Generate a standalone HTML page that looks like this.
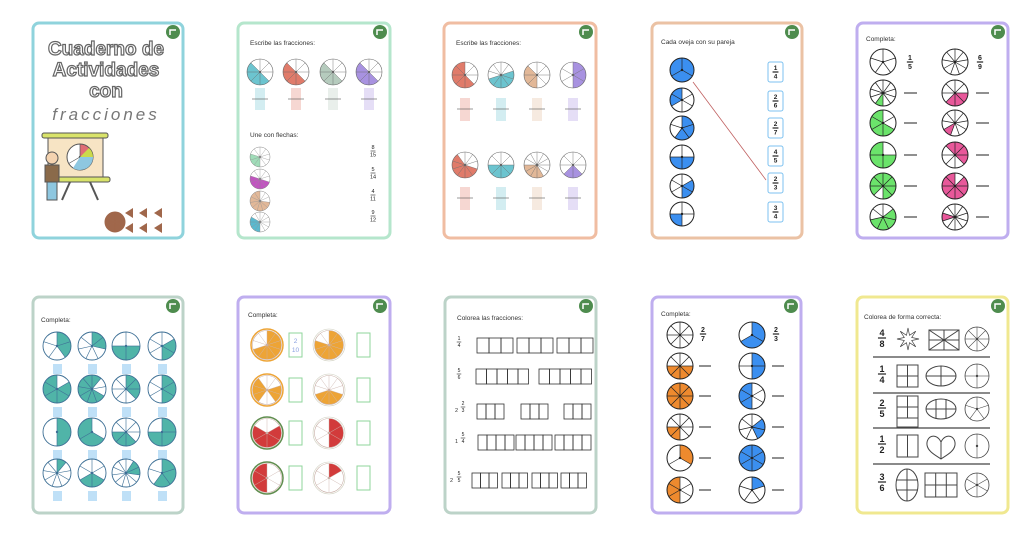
<!DOCTYPE html>
<html><head><meta charset="utf-8"><style>
body{margin:0;background:#fff;}
svg{display:block}
text{font-family:"Liberation Sans",sans-serif;}
</style></head><body>
<svg id="s" width="1024" height="536" xmlns="http://www.w3.org/2000/svg"></svg>
<script>
var s=document.getElementById('s');var NS='http://www.w3.org/2000/svg';
function el(t,a,txt){var e=document.createElementNS(NS,t);for(var k in a)e.setAttribute(k,a[k]);if(txt!==undefined)e.textContent=txt;s.appendChild(e);return e;}
function card(x,y,w,h,c){el('rect',{x:x,y:y,width:w,height:h,rx:6,fill:'#fff',stroke:c,'stroke-width':3});el('circle',{cx:x+w-10,cy:y+9,r:7,fill:'#4e8c4e'});el('path',{d:'M'+(x+w-13)+' '+(y+12)+'v-5h6',stroke:'#fff','stroke-width':1.5,fill:'none'});}
function T(x,y,t,sz,a){el('text',{x:x,y:y,'font-size':sz||7,fill:'#333','text-anchor':a||'start'},t);}
function pie(cx,cy,r,n,fill,col,stroke,sw){stroke=stroke||'#222';sw=sw||1;
 el('circle',{cx:cx,cy:cy,r:r,fill:'#fff'});
 for(var i=0;i<n;i++){var a0=i/n*2*Math.PI-Math.PI/2,a1=(i+1)/n*2*Math.PI-Math.PI/2;
  if(fill.indexOf(i)>=0){el('path',{d:'M'+cx+' '+cy+'L'+(cx+r*Math.cos(a0))+' '+(cy+r*Math.sin(a0))+'A'+r+' '+r+' 0 0 1 '+(cx+r*Math.cos(a1))+' '+(cy+r*Math.sin(a1))+'Z',fill:col});}}
 if(n>1)for(var i=0;i<n;i++){var a=i/n*2*Math.PI-Math.PI/2;el('line',{x1:cx,y1:cy,x2:cx+r*Math.cos(a),y2:cy+r*Math.sin(a),stroke:stroke,'stroke-width':sw*0.7});}
 el('circle',{cx:cx,cy:cy,r:r,fill:'none',stroke:stroke,'stroke-width':sw});el('circle',{cx:cx,cy:cy,r:1.2,fill:stroke});}
function rng(a,b){var r=[];for(var i=a;i<b;i++)r.push(i);return r;}
function frac(x,y,n,d,sz,bold){el('text',{x:x,y:y,'font-size':sz,'font-weight':bold?'bold':'normal','text-anchor':'middle',fill:'#222'},n);el('line',{x1:x-sz*0.45,y1:y+2,x2:x+sz*0.45,y2:y+2,stroke:'#222','stroke-width':bold?1.2:0.6});el('text',{x:x,y:y+sz+2,'font-size':sz,'font-weight':bold?'bold':'normal','text-anchor':'middle',fill:'#222'},d);}
// cards
card(33,23,150,215,'#8fd3dc');card(238,23,152,215,'#b5e6cc');card(444,23,152,215,'#f0bda2');card(652,23,150,215,'#ebc2a4');card(857,23,151,215,'#bfaeef');
card(33,297,150,216,'#bcd3c8');card(238,297,152,216,'#bfaeef');card(445,297,151,216,'#bcd3c8');card(652,297,149,216,'#bfaeef');card(857,297,151,216,'#f0e890');
// card1 title
['Cuaderno de','Actividades','con'].forEach(function(t,i){el('text',{x:106,y:[55,76,97][i],'font-size':19,'font-weight':'bold','text-anchor':'middle',fill:'#fff',stroke:'#666','stroke-width':1.2},t);});
el('text',{x:106,y:120,'font-size':17,'font-style':'italic','text-anchor':'middle',fill:'#777','font-family':'Liberation Serif, serif','letter-spacing':3},'fracciones');
// card1 illus
el('rect',{x:48,y:135,width:55,height:45,fill:'#f7e4c4',stroke:'#555'});el('rect',{x:42,y:133,width:66,height:5,rx:2,fill:'#d9e36a',stroke:'#555'});el('rect',{x:54,y:177,width:56,height:5,rx:2,fill:'#d9e36a',stroke:'#555'});
pie(80,157,13,3,[0],'#e06c75','#555');el('path',{d:'M80 157L93 157A13 13 0 0 1 73 168Z',fill:'#8ec7e0'});el('path',{d:'M80 157L93 157A13 13 0 0 0 89 148Z',fill:'#cbd94a'});
el('line',{x1:70,y1:182,x2:62,y2:200,stroke:'#555','stroke-width':2});el('line',{x1:90,y1:182,x2:98,y2:200,stroke:'#555','stroke-width':2});
el('circle',{cx:52,cy:158,r:6,fill:'#f4d3b0',stroke:'#555'});el('rect',{x:45,y:165,width:14,height:17,fill:'#8a6a4a',stroke:'#555'});el('rect',{x:47,y:182,width:10,height:18,fill:'#8ec7e0',stroke:'#555'});
pie(115,222,10,6,rng(0,6),'#a0674b','#a0674b');
[[131,213],[145,213],[160,213],[131,228],[145,228],[160,228]].forEach(function(p){el('path',{d:'M'+(p[0]-6)+' '+p[1]+'l8 -5v10z',fill:'#a0674b'});});
// card2
T(250,45,'Escribe las fracciones:',6.5);
[[260,'#6cc4cf'],[296,'#e07b6a'],[333,'#b5cbbd'],[369,'#a892e0']].forEach(function(p,i){pie(p[0],72,13,8,[3,4,5,6],p[1],'#666',0.6);el('rect',{x:p[0]-5,y:88,width:10,height:22,fill:p[1],opacity:0.3});el('line',{x1:p[0]-8,y1:99,x2:p[0]+8,y2:99,stroke:'#555','stroke-width':0.6});});
T(250,137,'Une con flechas:',6.5);
[[157,'#9fdcb8',10,[5,6,7]],[179,'#c155c0',10,[3,4,5,6,7]],[201,'#e2b898',11,rng(3,11)],[222,'#5ab9cf',12,[6,7,8,9]]].forEach(function(p){pie(260,p[0],10,p[2],p[3],p[1],'#888',0.5);});
[['8','15',149],['5','14',171],['4','11',193],['9','12',214]].forEach(function(p){frac(373,p[2],p[0],p[1],5.5);});
// card3
T(456,45,'Escribe las fracciones:',6.5);
var c3=['#e07b6a','#6cc4cf','#e2b898','#a892e0'];
[465,501,537,573].forEach(function(x,i){pie(x,75,13,[8,10,8,6][i],[[3,4,5,6,7],[2,3,4,5,6],[4,5,6],[0,1,2]][i],c3[i],'#666',0.6);el('rect',{x:x-5,y:98,width:10,height:23,fill:c3[i],opacity:0.3});el('line',{x1:x-8,y1:109,x2:x+8,y2:109,stroke:'#555','stroke-width':0.6});
pie(x,165,13,[10,8,12,8][i],[[3,4,5,6,7,8],[2,3,4,5],[5,6,7,8],[3,4]][i],c3[i],'#666',0.6);el('rect',{x:x-5,y:187,width:10,height:23,fill:c3[i],opacity:0.3});el('line',{x1:x-8,y1:198,x2:x+8,y2:198,stroke:'#555','stroke-width':0.6});});
// card4
T(661,44,'Cada oveja con su pareja',6.5);
[[70,3,[0,1,2]],[100,6,[4,5]],[128,5,[0,1,2]],[157,4,[1,2]],[186,6,[1,2]],[214,4,[2]]].forEach(function(p){pie(682,p[0],12,p[1],p[2],'#3b8ff0');});
[['1','4',62],['2','6',91],['2','7',118],['4','5',146],['2','3',173],['3','4',202]].forEach(function(p){el('rect',{x:768,y:p[2],width:15,height:20,rx:2,fill:'#fff',stroke:'#7cc1f0'});frac(775.5,p[2]+8,p[0],p[1],6.5,true);});
el('line',{x1:693,y1:82,x2:766,y2:180,stroke:'#c06060','stroke-width':0.8});
// card5
T(866,41,'Completa:',6.5);
var L5=[[5,[]],[10,[5]],[6,rng(2,6)],[4,[1,2,3]],[8,[0,1,2,3,5,6,7]],[7,[1,2,3,4]]];
var R5=[[9,[]],[8,[2,3,4]],[9,[5]],[8,[0,1,2,7]],[8,[1,2,3,4,5,6,7]],[10,[7]]];
[62,93,123,155,186,217].forEach(function(y,i){pie(883,y,13,L5[i][0],L5[i][1],'#6be36b');pie(955,y,13,R5[i][0],R5[i][1],'#e8589a');
if(i==0){frac(910,y-2,'1','5',7,true);frac(980,y-2,'6','9',7,true);}else{el('line',{x1:904,y1:y,x2:917,y2:y,stroke:'#222','stroke-width':1});el('line',{x1:976,y1:y,x2:989,y2:y,stroke:'#222','stroke-width':1});}});
// card6
T(41,322,'Completa:',6.5);
var P6=[[[5,[0,1]],[7,[0,1]],[4,[1,2]],[6,[1,2]]],[[6,[1,2,3,4,5]],[9,[0,3,4,5,6,7,8]],[8,[0,1,2]],[6,[0,1,2]]],[[2,[0]],[3,[1,2]],[8,[3,4,5]],[4,[0,1,2]]],[[9,[0]],[6,[2,3]],[11,[1,2]],[5,[0,1,2]]]];
[346,389,432,473].forEach(function(y,r){[57,92,126,162].forEach(function(x,c){pie(x,y,14,P6[r][c][0],P6[r][c][1],'#50b4a8','#3d6f95',0.9);el('rect',{x:x-4,y:y+18,width:9,height:10,fill:'#bfe0f7'});});});
// card7
T(248,317,'Completa:',6.5);
function fruit(cx,cy,r,n,f,col,rind){el('circle',{cx:cx,cy:cy,r:r,fill:'#fff',stroke:rind?rind:'#ccb',"stroke-width":rind?1.5:0.6});pie(cx,cy,r-1.5,n,f,col,'#c9b0a8',0.6);}
[[345,10,[0,1,2,3,4,5,6],10,[0,1,2,3,4,5,6,7]],[390,10,[2,3,6,7,8],10,[3,4,5,6]],[433,6,[1,2,3,4],6,[0,1,2]],[478,6,[3,4,5],6,[0]]].forEach(function(p,i){var col=i<2?'#eda436':'#d23b3b';fruit(267,p[0],16,p[1],p[2],col,i<2?'#eda436':'#5f8d4e');fruit(329,p[0],16,p[3],p[4],col);
el('rect',{x:289,y:p[0]-12,width:13,height:24,fill:'none',stroke:'#8fd69b'});el('rect',{x:357,y:p[0]-12,width:13,height:24,fill:'none',stroke:'#8fd69b'});});
el('text',{x:295.5,y:343,'font-size':6.5,fill:'#8aa0e0','text-anchor':'middle'},'2');el('text',{x:295.5,y:352,'font-size':6.5,fill:'#8aa0e0','text-anchor':'middle'},'10');
// card8
T(457,320,'Colorea las fracciones:',6.5);
function bars(x,y,n,w){for(var i=0;i<n;i++)el('rect',{x:x+i*w,y:y,width:w,height:15,fill:'none',stroke:'#333','stroke-width':0.8});}
frac(459,340,'1','4',5);[477,517,557].forEach(function(x){bars(x,338,3,12);});
frac(459,372,'5','6',5);bars(476,369,5,10.5);bars(539,369,5,10.5);
T(455,412,'2',5.5);frac(463,405,'2','3',5);bars(477,404,3,9);bars(521,404,3,9);bars(564,404,3,9);
T(455,443,'1',5.5);frac(463,436,'5','4',5);bars(478,435,4,9);bars(516,435,4,9);bars(555,435,4,9);
T(450,482,'2',5.5);frac(459,475,'5','5',5);[472,502,532,561].forEach(function(x){bars(x,473,3,8.5);});
// card9
T(661,316,'Completa:',6.5);
var L9=[[8,[]],[8,[2,3,4,5]],[8,rng(0,8)],[8,[4,5]],[3,[0]],[6,[3,4,5]]];
var R9=[[3,[0,1]],[4,[0,1]],[6,[3,4,5]],[7,[1,2]],[6,rng(0,6)],[5,[0]]];
[335,366,396,427,458,490].forEach(function(y,i){pie(680,y,13,L9[i][0],L9[i][1],'#ee8a2e');pie(752,y,13,R9[i][0],R9[i][1],'#3b8ff0');
if(i==0){frac(703,y-3,'2','7',7,true);frac(776,y-3,'2','3',7,true);}else{el('line',{x1:699,y1:y,x2:711,y2:y,stroke:'#222','stroke-width':1});el('line',{x1:772,y1:y,x2:784,y2:y,stroke:'#222','stroke-width':1});}});
// card10
T(864,319,'Colorea de forma correcta:',6.5);
var st='#444';
[357,393,428,464].forEach(function(y){el('line',{x1:873,y1:y,x2:990,y2:y,stroke:'#444','stroke-width':1.2});});
[['4','8',336],['1','4',372],['2','5',406],['1','2',442],['3','6',480]].forEach(function(p){frac(882,p[2],p[0],p[1],9,true);});
var sp='';for(var i=0;i<16;i++){var a=i/16*2*Math.PI,r=i%2?4:11;sp+=(i?'L':'M')+(908+r*Math.sin(a))+' '+(339-r*Math.cos(a));}el('path',{d:sp+'Z',fill:'none',stroke:st,'stroke-width':0.7});
el('rect',{x:929,y:330,width:30,height:20,fill:'none',stroke:st});el('line',{x1:929,y1:330,x2:959,y2:350,stroke:st});el('line',{x1:959,y1:330,x2:929,y2:350,stroke:st});el('line',{x1:944,y1:330,x2:944,y2:350,stroke:st});el('line',{x1:929,y1:340,x2:959,y2:340,stroke:st});
pie(977,339,12,8,[],'','#444',0.8);
el('rect',{x:897,y:365,width:21,height:22,fill:'none',stroke:st});el('line',{x1:907.5,y1:365,x2:907.5,y2:387,stroke:st});el('line',{x1:897,y1:376,x2:918,y2:376,stroke:st});
el('ellipse',{cx:941,cy:376,rx:15,ry:10,fill:'none',stroke:st});el('line',{x1:926,y1:376,x2:956,y2:376,stroke:st});el('line',{x1:941,y1:366,x2:941,y2:386,stroke:st});
pie(977,376,12,4,[],'','#444',0.8);
el('rect',{x:897,y:396,width:21,height:31,fill:'none',stroke:st});el('line',{x1:907.5,y1:396,x2:907.5,y2:418,stroke:st});el('line',{x1:897,y1:407,x2:918,y2:407,stroke:st});el('line',{x1:897,y1:418,x2:918,y2:418,stroke:st});
el('ellipse',{cx:941,cy:409,rx:15,ry:10,fill:'none',stroke:st});el('line',{x1:936,y1:399,x2:936,y2:419,stroke:st});el('line',{x1:946,y1:399,x2:946,y2:419,stroke:st});el('line',{x1:926,y1:409,x2:956,y2:409,stroke:st});
pie(977,409,12,5,[],'','#444',0.8);
el('rect',{x:897,y:435,width:21,height:22,fill:'none',stroke:st});el('line',{x1:907.5,y1:435,x2:907.5,y2:457,stroke:st});
el('path',{d:'M941 442C936 432 926 436 927 445C928 452 937 456 941 459C945 456 954 452 955 445C956 436 946 432 941 442Z',fill:'none',stroke:st});el('line',{x1:941,y1:442,x2:941,y2:459,stroke:st});
pie(977,446,12,2,[],'','#444',0.8);
el('ellipse',{cx:907,cy:485,rx:11,ry:16,fill:'none',stroke:st});el('line',{x1:907,y1:469,x2:907,y2:501,stroke:st});el('line',{x1:896,y1:480,x2:918,y2:480,stroke:st});el('line',{x1:896,y1:490,x2:918,y2:490,stroke:st});
el('rect',{x:925,y:473,width:32,height:24,fill:'none',stroke:st});el('line',{x1:935.7,y1:473,x2:935.7,y2:497,stroke:st});el('line',{x1:946.3,y1:473,x2:946.3,y2:497,stroke:st});el('line',{x1:925,y1:485,x2:957,y2:485,stroke:st});
pie(977,485,12,6,[],'','#444',0.8);
</script>
</body></html>
